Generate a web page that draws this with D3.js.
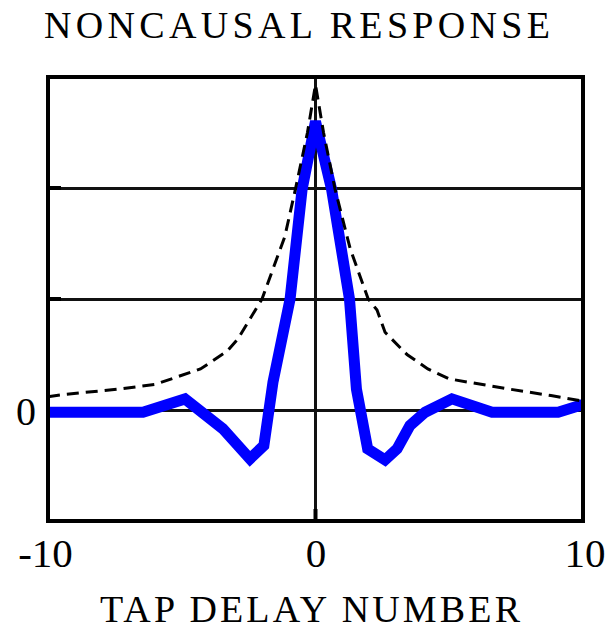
<!DOCTYPE html>
<html>
<head>
<meta charset="utf-8">
<script src="https://cdn.jsdelivr.net/npm/d3@7"></script>
<style>
  body { margin: 0; background: #fff; }
  text { font-family: "Liberation Serif", "Times New Roman", Times, serif; fill: #000; }
</style>
</head>
<body>
<div id="chart"></div>
<script>
// tap positions and responses
const blueX = [-10, -6.45, -4.88, -3.46, -2.45, -1.93, -1.59, -0.95, -0.5, 0,
               0.6, 1.27, 1.53, 1.95, 2.6, 3.05, 3.53, 4.1, 5.1, 6.6, 9.07, 10];
const blueY = [-0.02, -0.02, 0.1, -0.17, -0.44, -0.32, 0.25, 1.0, 1.99, 2.6,
               1.99, 1.0, 0.19, -0.35, -0.45, -0.35, -0.14, -0.02, 0.1, -0.02, -0.02, 0.05];

const dashX = [-10, -9.4, -7.3, -6.0, -4.3, -3.3, -2.9, -2.0, -1.15, -0.75, -0.3, 0,
               0.3, 0.73, 1.3, 1.97, 2.3, 2.6, 3.42, 4.2, 5.0, 7.2, 8.8, 10];
const dashY = [0.12, 0.14, 0.19, 0.23, 0.37, 0.53, 0.64, 1.0, 1.56, 1.99, 2.5, 2.93,
               2.5, 1.99, 1.45, 1.0, 0.9, 0.7, 0.5, 0.37, 0.28, 0.19, 0.13, 0.08];

const xTicks = [-10, 0, 10];
const yGrid = [0, 1, 2];
const yLabels = [0];

const W = 611, H = 629;
const plotL = 48, plotR = 583, plotT = 77, plotB = 521;

const svg = d3.select("#chart").append("svg")
    .attr("width", W).attr("height", H);

const x = d3.scaleLinear().domain([-10, 10]).range([plotL, plotR]);
const y = d3.scaleLinear().domain([-1, 3]).range([plotB, plotT]);

// horizontal grid
svg.append("g")
    .attr("transform", `translate(${plotL},0)`)
    .call(d3.axisLeft(y).tickValues(yGrid).tickSize(-(plotR - plotL)).tickFormat(""))
    .call(g => g.select(".domain").remove())
    .call(g => g.selectAll("line").attr("stroke", "#111").attr("stroke-width", 3));

// vertical line at tap 0
svg.append("line")
    .attr("x1", x(0)).attr("x2", x(0))
    .attr("y1", plotT).attr("y2", plotB)
    .attr("stroke", "#111").attr("stroke-width", 3);

// small inner ticks on left border
svg.append("g").selectAll("line")
    .data(yGrid)
    .enter().append("line")
    .attr("x1", plotL).attr("x2", plotL + 13)
    .attr("y1", d => y(d)).attr("y2", d => y(d))
    .attr("stroke", "#000").attr("stroke-width", 4);

svg.append("line")
    .attr("x1", x(0)).attr("x2", x(0))
    .attr("y1", plotB).attr("y2", plotB - 12)
    .attr("stroke", "#000").attr("stroke-width", 4);

const line = d3.line().x(d => x(d[0])).y(d => y(d[1]));

svg.append("path")
    .datum(d3.zip(blueX, blueY))
    .attr("d", line)
    .attr("fill", "none")
    .attr("stroke", "#0000ff")
    .attr("stroke-width", 11)
    .attr("stroke-miterlimit", 4);

svg.append("path")
    .datum(d3.zip(dashX, dashY))
    .attr("d", line)
    .attr("fill", "none")
    .attr("stroke", "#000")
    .attr("stroke-width", 3)
    .attr("stroke-dasharray", "12,7");

// frame
svg.append("rect")
    .attr("x", plotL).attr("y", plotT)
    .attr("width", plotR - plotL).attr("height", plotB - plotT)
    .attr("fill", "none").attr("stroke", "#000").attr("stroke-width", 4);

// x tick labels
svg.append("g")
    .attr("transform", `translate(0,${plotB})`)
    .call(d3.axisBottom(x).tickValues(xTicks).tickSize(0).tickPadding(0).tickFormat(d => String(d)))
    .call(g => g.select(".domain").remove())
    .call(g => g.selectAll("text")
        .attr("dy", null).attr("y", 46)
        .style("font-family", "'Liberation Serif', 'Times New Roman', serif")
        .style("font-size", "41px")
        .attr("fill", "#000")
        .attr("text-anchor", (d, i) => i === 2 ? "end" : "middle")
        .attr("x", (d, i) => i === 2 ? 605 - x(10) : (i === 0 ? 45 - x(-10) : 0)));

// y tick label
svg.append("g")
    .attr("transform", `translate(${plotL},0)`)
    .call(d3.axisLeft(y).tickValues(yLabels).tickSize(0).tickPadding(12).tickFormat(d => String(d)))
    .call(g => g.select(".domain").remove())
    .call(g => g.selectAll("text")
        .attr("dy", "0.35em")
        .style("font-family", "'Liberation Serif', 'Times New Roman', serif")
        .style("font-size", "40px")
        .attr("fill", "#000"));

svg.append("text")
    .attr("x", 297).attr("y", 38)
    .attr("text-anchor", "middle")
    .attr("textLength", 506).attr("lengthAdjust", "spacing")
    .style("font-size", "38px")
    .text("NONCAUSAL RESPONSE");

svg.append("text")
    .attr("x", 310).attr("y", 622)
    .attr("text-anchor", "middle")
    .attr("textLength", 420).attr("lengthAdjust", "spacing")
    .style("font-size", "38px")
    .text("TAP DELAY NUMBER");
</script>
</body>
</html>
